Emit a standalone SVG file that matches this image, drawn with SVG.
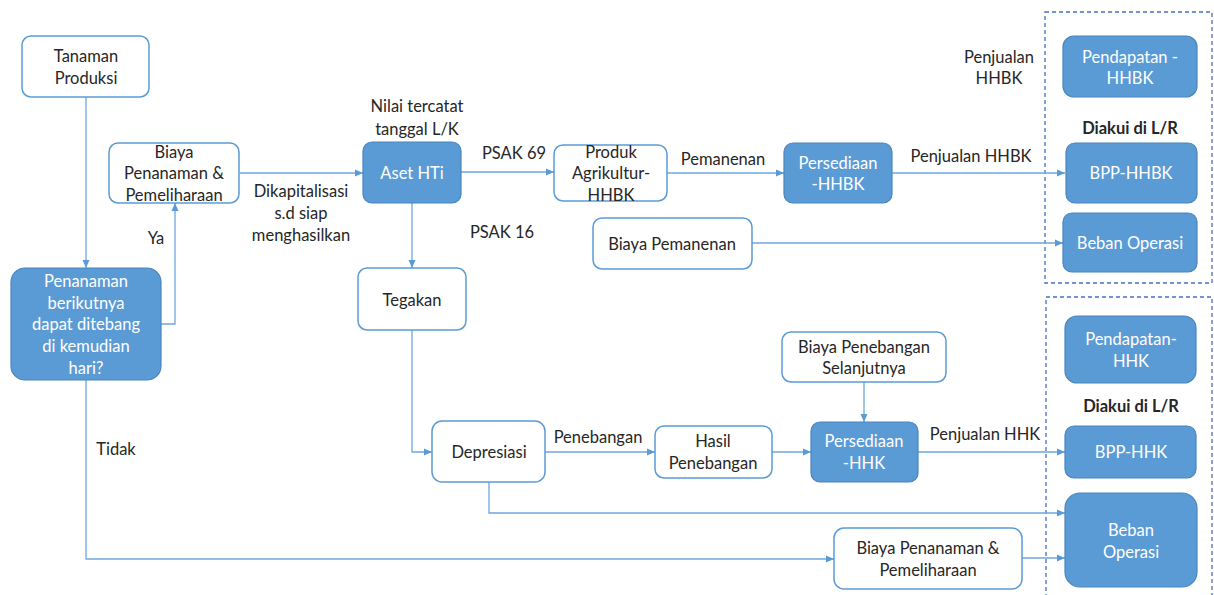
<svg xmlns="http://www.w3.org/2000/svg" width="1214" height="595" viewBox="0 0 1214 595">
<defs>
<style>
text{font-family:Lato,"Open Sans","Liberation Sans",sans-serif;font-size:16.5px;fill:#262626;text-anchor:middle}
.w{fill:#fff;stroke:#5B9BD5;stroke-width:1.5}
.f{fill:#5B9BD5;stroke:#4A85BD;stroke-width:1.2}
.ft{fill:#fff}
.b{font-weight:bold}
.c{fill:none;stroke:#6FA7DC;stroke-width:1.3}
.d{fill:none;stroke:#4472C4;stroke-width:1.3;stroke-dasharray:4 3}
</style>
<marker id="a" viewBox="0 0 8 8" refX="8" refY="4" markerWidth="8" markerHeight="8" markerUnits="userSpaceOnUse" orient="auto">
<path d="M0,0.5 L8,4 L0,7.5 Z" fill="#5B9BD5"/>
</marker>
</defs>
<rect width="1214" height="595" fill="#fff"/>

<g id="boxes">
<rect class="d" x="1045" y="12" width="167" height="271"/>
<rect class="d" x="1046" y="297" width="166" height="310"/>
</g>

<g id="connectors">
<path class="c" d="M86,97 V268" marker-end="url(#a)"/>
<path class="c" d="M161,324 H175 V203" marker-end="url(#a)"/>
<path class="c" d="M240,173 H363" marker-end="url(#a)"/>
<path class="c" d="M461,172 H554" marker-end="url(#a)"/>
<path class="c" d="M412,203 V268" marker-end="url(#a)"/>
<path class="c" d="M667,173 H784" marker-end="url(#a)"/>
<path class="c" d="M892,173 H1065" marker-end="url(#a)"/>
<path class="c" d="M752,243 H1063" marker-end="url(#a)"/>
<path class="c" d="M412,330 V452 H432" marker-end="url(#a)"/>
<path class="c" d="M545,452 H655" marker-end="url(#a)"/>
<path class="c" d="M772,452 H811" marker-end="url(#a)"/>
<path class="c" d="M864,382 V422" marker-end="url(#a)"/>
<path class="c" d="M918,452 H1065" marker-end="url(#a)"/>
<path class="c" d="M489,482 V513 H1065" marker-end="url(#a)"/>
<path class="c" d="M86,380 V559 H834" marker-end="url(#a)"/>
<path class="c" d="M1022,558 H1065" marker-end="url(#a)"/>
</g>

<g id="labels">
<text x="156" y="244">Ya</text>
<text x="301" y="197">Dikapitalisasi</text>
<text x="301" y="219">s.d siap</text>
<text x="301" y="241">menghasilkan</text>
<text x="417" y="112">Nilai tercatat</text>
<text x="417" y="135">tanggal L/K</text>
<text x="514" y="159">PSAK 69</text>
<text x="502" y="238">PSAK 16</text>
<text x="723" y="165">Pemanenan</text>
<text x="999" y="63">Penjualan</text>
<text x="999" y="84">HHBK</text>
<text x="971" y="162">Penjualan HHBK</text>
<text class="b" x="1130" y="134">Diakui di L/R</text>
<text x="598" y="443">Penebangan</text>
<text x="985" y="440">Penjualan HHK</text>
<text class="b" x="1131" y="412">Diakui di L/R</text>
<text x="116" y="455">Tidak</text>
</g>

<g id="n-tanaman"><rect class="w" x="22" y="36" width="127" height="61" rx="9"/><text x="86" y="62">Tanaman</text><text x="86" y="84">Produksi</text></g>
<g id="n-decision"><rect class="f" x="11" y="268" width="150" height="112" rx="14"/><text class="ft" x="86" y="287">Penanaman</text><text class="ft" x="86" y="309">berikutnya</text><text class="ft" x="86" y="330">dapat ditebang</text><text class="ft" x="86" y="352">di kemudian</text><text class="ft" x="86" y="374">hari?</text></g>
<g id="n-biaya1"><rect class="w" x="109" y="143" width="130" height="60" rx="9"/><text x="174" y="158">Biaya</text><text x="174" y="179">Penanaman &amp;</text><text x="174" y="201">Pemeliharaan</text></g>
<g id="n-aset"><rect class="f" x="363" y="142" width="98" height="61" rx="9"/><text class="ft" x="412" y="179">Aset HTi</text></g>
<g id="n-produk"><rect class="w" x="554" y="145" width="113" height="56" rx="9"/><text x="611" y="158">Produk</text><text x="611" y="179">Agrikultur-</text><text x="611" y="201">HHBK</text></g>
<g id="n-pemanenan"><rect class="w" x="593" y="218" width="159" height="51" rx="9"/><text x="672" y="250">Biaya Pemanenan</text></g>
<g id="n-pers-hhbk"><rect class="f" x="784" y="143" width="108" height="60" rx="9"/><text class="ft" x="838" y="169">Persediaan</text><text class="ft" x="838" y="190">-HHBK</text></g>
<g id="n-pend-hhbk"><rect class="f" x="1063" y="36" width="134" height="61" rx="11"/><text class="ft" x="1130" y="63">Pendapatan -</text><text class="ft" x="1130" y="84">HHBK</text></g>
<g id="n-bpp-hhbk"><rect class="f" x="1066" y="143" width="131" height="60" rx="9"/><text class="ft" x="1131" y="179">BPP-HHBK</text></g>
<g id="n-beban1"><rect class="f" x="1063" y="213" width="134" height="59" rx="9"/><text class="ft" x="1130" y="249">Beban Operasi</text></g>
<g id="n-tegakan"><rect class="w" x="358" y="268" width="108" height="62" rx="9"/><text x="412" y="306">Tegakan</text></g>
<g id="n-depresiasi"><rect class="w" x="432" y="421" width="113" height="61" rx="10"/><text x="489" y="458">Depresiasi</text></g>
<g id="n-hasil"><rect class="w" x="655" y="426" width="117" height="52" rx="9"/><text x="713" y="447">Hasil</text><text x="713" y="469">Penebangan</text></g>
<g id="n-penebangan"><rect class="w" x="782" y="332" width="164" height="50" rx="9"/><text x="864" y="353">Biaya Penebangan</text><text x="864" y="374">Selanjutnya</text></g>
<g id="n-pers-hhk"><rect class="f" x="811" y="422" width="107" height="60" rx="9"/><text class="ft" x="864" y="447">Persediaan</text><text class="ft" x="864" y="469">-HHK</text></g>
<g id="n-pend-hhk"><rect class="f" x="1065" y="316" width="131" height="67" rx="12"/><text class="ft" x="1131" y="345">Pendapatan-</text><text class="ft" x="1131" y="367">HHK</text></g>
<g id="n-bpp-hhk"><rect class="f" x="1065" y="426" width="131" height="52" rx="9"/><text class="ft" x="1131" y="458">BPP-HHK</text></g>
<g id="n-beban2"><rect class="f" x="1065" y="493" width="132" height="94" rx="15"/><text class="ft" x="1131" y="536">Beban</text><text class="ft" x="1131" y="558">Operasi</text></g>
<g id="n-biaya2"><rect class="w" x="834" y="528" width="188" height="61" rx="10"/><text x="928" y="554">Biaya Penanaman &amp;</text><text x="928" y="576">Pemeliharaan</text></g>
</svg>
